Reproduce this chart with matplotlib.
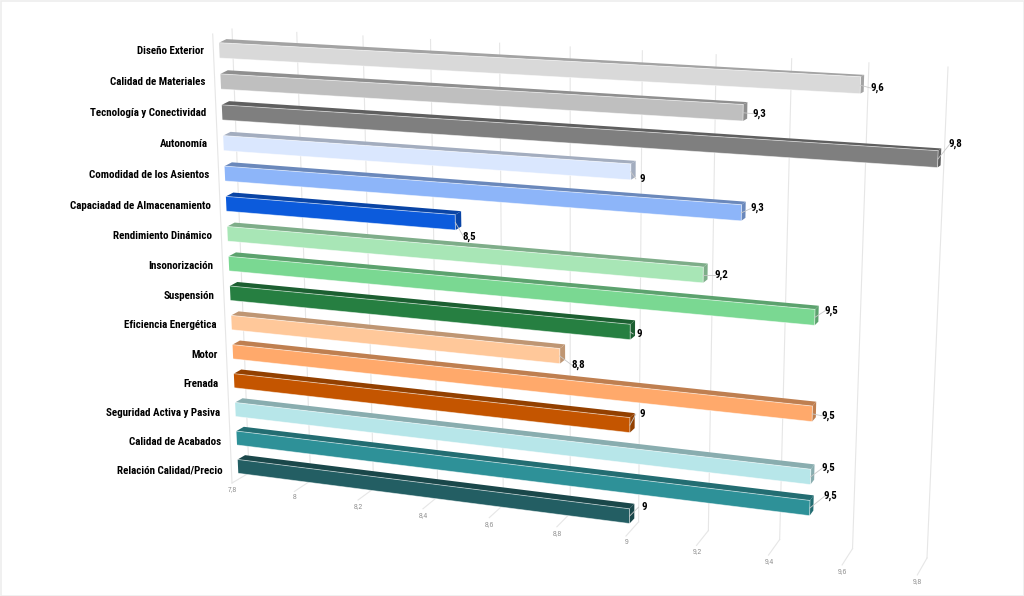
import numpy as np
import matplotlib
matplotlib.use('Agg')
import matplotlib.pyplot as plt
from matplotlib.patches import Polygon, Rectangle
from matplotlib import font_manager

categories = ['Diseño Exterior', 'Calidad de Materiales', 'Tecnología y Conectividad', 'Autonomía',
              'Comodidad de los Asientos', 'Capaciadad de Almacenamiento', 'Rendimiento Dinámico',
              'Insonorización', 'Suspensión', 'Eficiencia Energética', 'Motor', 'Frenada',
              'Seguridad Activa y Pasiva', 'Calidad de Acabados', 'Relación Calidad/Precio']
values = [9.6, 9.3, 9.8, 9.0, 9.3, 8.5, 9.2, 9.5, 9.0, 8.8, 9.5, 9.0, 9.5, 9.5, 9.0]
front_colors = ['#D9D9D9', '#BFBFBF', '#7F7F7F', '#DAE7FE', '#8DB5F9', '#0C5BDC', '#A8E6B6', '#7AD892',
                '#267F41', '#FFC89A', '#FFA96B', '#C45500', '#B7E6E9', '#2E9198', '#235E63']
ticks = [7.8, 8.0, 8.2, 8.4, 8.6, 8.8, 9.0, 9.2, 9.4, 9.6, 9.8]

# where each value label sits relative to the end of its bar, in pixels
label_dx = [17, 16.5, 18, 11, 16, 14, 18, 17, 9, 18, 16, 12, 18, 21, 15]
label_dy = [3, 1, -15, 7, -4.5, 14, 0, -7, 2, 9, 2, -11, -9, -12, -9]

BAR_H = 0.49
VMIN, VMAX = 7.8, 9.8
LAST_ROW = len(categories) - 1


def homography(src, dst):
    # plane to plane mapping from four point pairs
    rows, rhs = [], []
    for (x, y), (u, w) in zip(src, dst):
        rows.append([x, y, 1, 0, 0, 0, -u * x, -u * y])
        rows.append([0, 0, 0, x, y, 1, -w * x, -w * y])
        rhs += [u, w]
    h = np.linalg.solve(np.array(rows, float), np.array(rhs, float))
    return np.append(h, 1).reshape(3, 3)


def apply(h, a, b):
    p = h @ np.array([a, b, 1.0])
    return p[:2] / p[2]


# bar front plane: (value, row) to pixels
front_h = homography([(VMIN, 0), (VMAX, 0), (VMIN, LAST_ROW + BAR_H), (VMAX, LAST_ROW + BAR_H)],
                     [(219, 42.7), (941, 81), (238.3, 473.3), (921.5, 561)])
# back wall holding the grid: (value, 0..1)
wall_h = homography([(VMIN, 0), (VMAX, 0), (VMIN, 1), (VMAX, 1)],
                    [(232, 29), (948, 67), (249, 473), (927, 558)])


def depth(v, row):
    # shift from a bar's front face to its back face, shrinking towards the far end
    u = (v - VMIN) / (VMAX - VMIN)
    s = row / LAST_ROW
    dx = 7.4 - 4.3 * u
    dy = (1 - s) * (-3.6 + 1.9 * u) + s * (-4.3 - 1.2 * u)
    return np.array([dx, dy])


def floor_front(v):
    # front end of a floor line, measured from the foot of the wall
    u = (v - VMIN) / (VMAX - VMIN)
    return apply(wall_h, v, 1) + np.array([-17 + 7.3 * u, 10 + 7 * u])


def darker(c, f=0.75):
    return tuple(x * f for x in matplotlib.colors.to_rgb(c))


names = {f.name for f in font_manager.fontManager.ttflist}
label_font = 'Roboto Condensed' if 'Roboto Condensed' in names else 'Roboto'

fig = plt.figure(figsize=(10.24, 5.96), dpi=100)
ax = fig.add_axes([0, 0, 1, 1])
ax.set_xlim(0, 1024)
ax.set_ylim(596, 0)
ax.axis('off')

ax.add_patch(Rectangle((0.5, 0.5), 1023, 595, fill=False, ec='#EDEDED', lw=1.2))

grid_c = '#E6E6E6'
# left front edge of the box
ax.plot([212.7, 232], [34, 483], color=grid_c, lw=0.8, zorder=1)
for t in ticks:
    top, base = apply(wall_h, t, 0), apply(wall_h, t, 1)
    ax.plot([top[0], base[0]], [top[1], base[1]], color=grid_c, lw=0.8, zorder=1)
    fr = floor_front(t)
    ax.plot([fr[0], base[0]], [fr[1], base[1]], color=grid_c, lw=0.8, zorder=1)
    txt = f'{t:g}'.replace('.', ',')
    ax.text(fr[0] + 0.5, fr[1] + 6.5, txt, ha='center', va='center', fontsize=4.8,
            color='#8A8A8A', family='Liberation Sans', zorder=2)

for i, (name, v, col) in enumerate(zip(categories, values, front_colors)):
    z = 3 + i
    a = apply(front_h, VMIN, i)
    b = apply(front_h, v, i)
    c = apply(front_h, v, i + BAR_H)
    d = apply(front_h, VMIN, i + BAR_H)
    a2, b2, c2 = a + depth(VMIN, i), b + depth(v, i), c + depth(v, i)
    dark = darker(col)

    ax.add_patch(Polygon([a, b, b2, a2], closed=True, fc=dark, ec='none', zorder=z))
    ax.add_patch(Polygon([b, c, c2, b2], closed=True, fc=dark, ec='none', zorder=z))
    ax.add_patch(Polygon([a, b, c, d], closed=True, fc=col, ec='none', zorder=z))
    # thin light bevel along the front face
    ax.plot([a[0], b[0], c[0]], [a[1], b[1], c[1]], color='white', alpha=0.55, lw=0.6, zorder=z)
    ax.plot([d[0], c[0]], [d[1], c[1]], color='white', alpha=0.55, lw=0.6, zorder=z)

    end = (b + c) / 2
    lx, ly = end[0] + label_dx[i], end[1] + label_dy[i]
    ax.plot([end[0], lx - 6], [end[1], ly], color='#C8C8C8', lw=0.6, zorder=z + 20)
    ax.text(lx, ly, f'{v:g}'.replace('.', ','), ha='center', va='center', fontsize=7.8,
            fontweight='bold', family=label_font, color='black', zorder=40)

    mid = (a + d) / 2
    ax.text(mid[0] - 15.5, mid[1] + 0.4 + 0.27 * i, name, ha='right', va='center', fontsize=7.9,
            fontweight='bold', family=label_font, color='black', zorder=40)

fig.savefig('out.png', dpi=100)
